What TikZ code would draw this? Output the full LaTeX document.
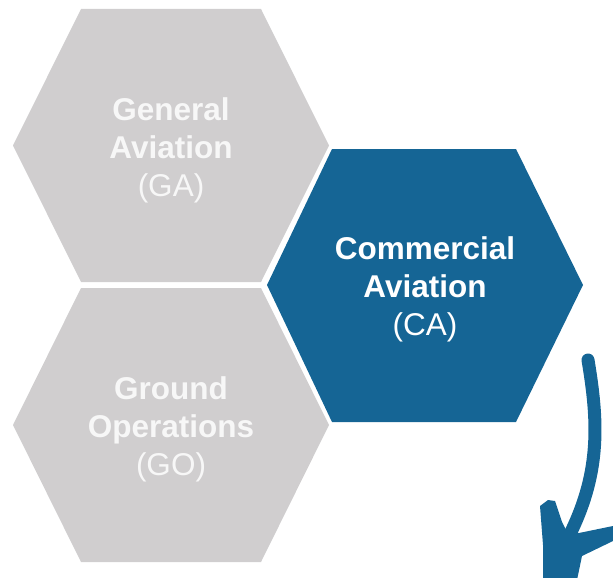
\documentclass[tikz,border=0pt]{standalone}
\usepackage{fontspec}
\setmainfont{Liberation Sans}
\definecolor{hexgray}{HTML}{D0CECF}
\definecolor{hexblue}{HTML}{156595}
\definecolor{txtgray}{HTML}{F7F7F7}
\begin{document}
\begin{tikzpicture}[x=1pt,y=-1pt,
  hexlabel/.style={align=center,font=\fontsize{31.5}{38}\selectfont,inner sep=0pt},
  arrowstroke/.style={draw=hexblue,line cap=round,line join=round}]
\useasboundingbox (0,0) rectangle (613,578);
% hexagons
\fill[hexgray] (13,145.5) -- (81,9) -- (261,9) -- (329,145.5) -- (261,282) -- (81,282) -- cycle;
\fill[hexgray] (13,425) -- (81,288) -- (261,288) -- (329,425) -- (261,562) -- (81,562) -- cycle;
\fill[hexblue] (267,285) -- (332,149) -- (516,149) -- (583,285) -- (516,422) -- (332,422) -- cycle;
% labels
\node[hexlabel,text=txtgray] (ga) at (171,150) {\textbf{General}\\\textbf{Aviation}\\(GA)};
\node[hexlabel,text=txtgray] (go) at (171,429) {\textbf{Ground}\\\textbf{Operations}\\(GO)};
\node[hexlabel,text=white] (ca) at (425,289) {\textbf{Commercial}\\\textbf{Aviation}\\(CA)};
% hand-drawn arrow
\coordinate (top) at (588,360);
\coordinate (joint) at (571,532);
\draw[arrowstroke,line width=13pt] (top) .. controls (598,420) and (601,470) .. (joint);
\fill[hexblue] (540,506) -- (548,500) -- (555,501) -- (562,522) -- (566,530)
  -- (579,533) -- (613,526) -- (613,541) -- (582,556) -- (577,580)
  -- (543,580) -- (543,545) -- cycle;
\end{tikzpicture}
\end{document}
